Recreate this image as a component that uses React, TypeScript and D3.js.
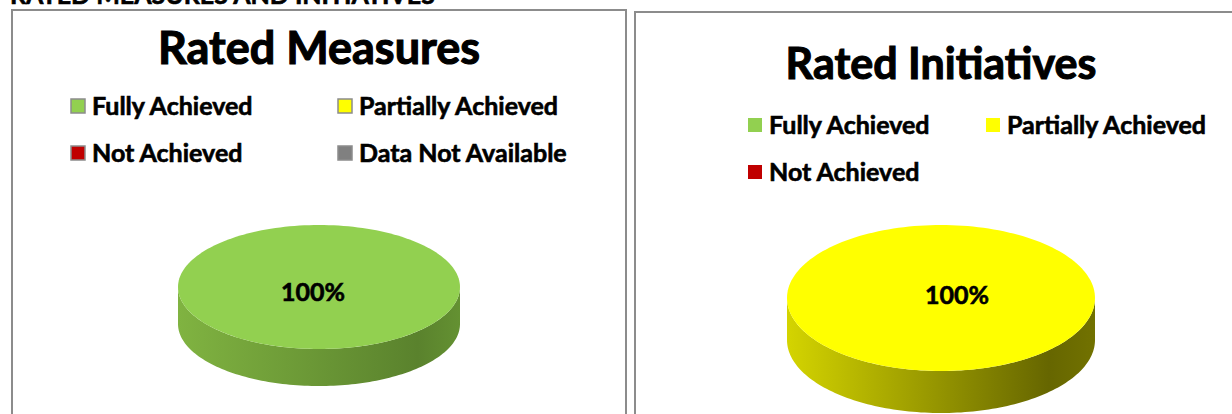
import { useEffect, useRef } from "react";
import * as d3 from "d3";

const W = 1232;
const H = 414;

const measureCategories = ["Fully Achieved", "Partially Achieved", "Not Achieved", "Data Not Available"];
const measureValues = [1, 0, 0, 0];
const initiativeCategories = ["Fully Achieved", "Partially Achieved", "Not Achieved"];
const initiativeValues = [0, 1, 0];

const categoryColors = ["#92D050", "#FFFF00", "#C00000", "#808080"];
const sideColors: Record<string, [string, string]> = {
  "Fully Achieved": ["#80B341", "#5A822D"],
  "Partially Achieved": ["#D4D400", "#666600"],
  "Not Achieved": ["#A00000", "#600000"],
  "Data Not Available": ["#707070", "#404040"],
};

const FONT = "Lato, 'Open Sans', sans-serif";

type Panel = {
  id: string;
  title: string;
  categories: string[];
  values: number[];
  box: { x: number; y: number; w: number; h: number };
  titleY: number;
  titleSize: number;
  legend: { x0: number; x1: number; y0: number; dy: number; border: boolean };
  pie: { cx: number; cy: number; rx: number; ry: number; depth: number };
  label: { dx: number; dy: number };
};

const panels: Panel[] = [
  {
    id: "m",
    title: "Rated Measures",
    categories: measureCategories,
    values: measureValues,
    box: { x: 12, y: 10, w: 614, h: 420 },
    titleY: 64,
    titleSize: 45,
    legend: { x0: 71, x1: 338, y0: 106, dy: 47, border: true },
    pie: { cx: 319, cy: 287, rx: 141, ry: 62, depth: 37 },
    label: { dx: -6, dy: 5 },
  },
  {
    id: "i",
    title: "Rated Initiatives",
    categories: initiativeCategories,
    values: initiativeValues,
    box: { x: 635, y: 12, w: 620, h: 420 },
    titleY: 79,
    titleSize: 43,
    legend: { x0: 748, x1: 986, y0: 125, dy: 47, border: false },
    pie: { cx: 941, cy: 298, rx: 154, ry: 73, depth: 42 },
    label: { dx: 16, dy: -3 },
  },
];

const color = d3.scaleOrdinal<string, string>().domain(measureCategories).range(categoryColors);

function ellipsePoint(p: Panel["pie"], a: number, dy = 0): [number, number] {
  return [p.cx + p.rx * Math.sin(a), p.cy - p.ry * Math.cos(a) + dy];
}

function topPath(p: Panel["pie"], a0: number, a1: number) {
  const steps = Math.max(8, Math.ceil(((a1 - a0) / (2 * Math.PI)) * 180));
  const pts = d3.range(steps + 1).map((i) => ellipsePoint(p, a0 + ((a1 - a0) * i) / steps));
  const full = a1 - a0 >= 2 * Math.PI - 1e-6;
  return full ? d3.line()(pts) + "Z" : `M${p.cx},${p.cy}` + d3.line()(pts)!.replace("M", "L") + "Z";
}

function sidePath(p: Panel["pie"], a0: number, a1: number) {
  // only the front half of the rim is visible
  const s = Math.max(a0, Math.PI / 2);
  const e = Math.min(a1, (3 * Math.PI) / 2);
  if (e <= s) return null;
  const steps = 120;
  const front = d3.range(steps + 1).map((i) => ellipsePoint(p, s + ((e - s) * i) / steps));
  const back = front.map(([x, y]) => [x, y + p.depth] as [number, number]).reverse();
  return d3.line()([...front, ...back]) + "Z";
}

function boldText(sel: d3.Selection<SVGTextElement, unknown, null, undefined>, size: number) {
  return sel
    .attr("font-family", FONT)
    .attr("font-weight", 700)
    .attr("font-size", size)
    .attr("fill", "#000")
    .attr("stroke", "#000")
    .attr("stroke-width", size * 0.025);
}

export default function App() {
  const ref = useRef<SVGSVGElement>(null);

  useEffect(() => {
    const svg = d3.select(ref.current);
    svg.selectAll("*").remove();

    svg.append("rect").attr("width", W).attr("height", H).attr("fill", "#fff");

    // page heading, its top is cropped off in the original screenshot
    boldText(svg.append("text").attr("x", 10).attr("y", 4), 25).text("RATED MEASURES AND INITIATIVES");

    const defs = svg.append("defs");

    panels.forEach((pn) => {
      const g = svg.append("g");
      g.append("rect")
        .attr("x", pn.box.x)
        .attr("y", pn.box.y)
        .attr("width", pn.box.w)
        .attr("height", pn.box.h)
        .attr("fill", "#fff")
        .attr("stroke", "#8c8c8c")
        .attr("stroke-width", 2);

      boldText(
        g.append("text").attr("x", pn.pie.cx).attr("y", pn.titleY).attr("text-anchor", "middle"),
        pn.titleSize,
      ).text(pn.title);

      // legend
      pn.categories.forEach((c, i) => {
        const lx = i % 2 === 0 ? pn.legend.x0 : pn.legend.x1;
        const ly = pn.legend.y0 + Math.floor(i / 2) * pn.legend.dy;
        g.append("rect")
          .attr("x", lx)
          .attr("y", ly - 7)
          .attr("width", 14)
          .attr("height", 14)
          .attr("fill", color(c))
          .attr("stroke", pn.legend.border ? "#8c8c8c" : "none")
          .attr("stroke-width", 1.5);
        boldText(g.append("text").attr("x", lx + 21).attr("y", ly).attr("dy", "0.36em"), 25).text(c);
      });

      // pie
      const arcs = d3
        .pie<number>()
        .sort(null)
        .value((d) => d)(pn.values)
        .map((a, i) => ({ ...a, cat: pn.categories[i] }))
        .filter((a) => a.endAngle > a.startAngle);

      arcs.forEach((a, i) => {
        const sp = sidePath(pn.pie, a.startAngle, a.endAngle);
        if (!sp) return;
        const gid = `side-${pn.id}-${i}`;
        const [c0, c1] = sideColors[a.cat];
        const grad = defs
          .append("linearGradient")
          .attr("id", gid)
          .attr("gradientUnits", "userSpaceOnUse")
          .attr("x1", pn.pie.cx - pn.pie.rx)
          .attr("x2", pn.pie.cx + pn.pie.rx)
          .attr("y1", 0)
          .attr("y2", 0);
        grad.append("stop").attr("offset", "0%").attr("stop-color", c0);
        grad.append("stop").attr("offset", "85%").attr("stop-color", c1);
        grad.append("stop").attr("offset", "100%").attr("stop-color", d3.color(c1)!.brighter(0.3).formatHex());
        g.append("path").attr("d", sp).attr("fill", `url(#${gid})`);
      });

      arcs.forEach((a) => {
        g.append("path").attr("d", topPath(pn.pie, a.startAngle, a.endAngle)).attr("fill", color(a.cat));
      });

      const total = d3.sum(pn.values);
      arcs.forEach((a) => {
        boldText(
          g
            .append("text")
            .attr("x", pn.pie.cx + pn.label.dx)
            .attr("y", pn.pie.cy + pn.label.dy)
            .attr("dy", "0.36em")
            .attr("text-anchor", "middle"),
          25,
        ).text(d3.format(".0%")(a.value / total));
      });
    });
  }, []);

  return (
    <svg
      ref={ref}
      width={W}
      height={H}
      style={{ position: "absolute", left: 0, top: 0, display: "block" }}
    />
  );
}
